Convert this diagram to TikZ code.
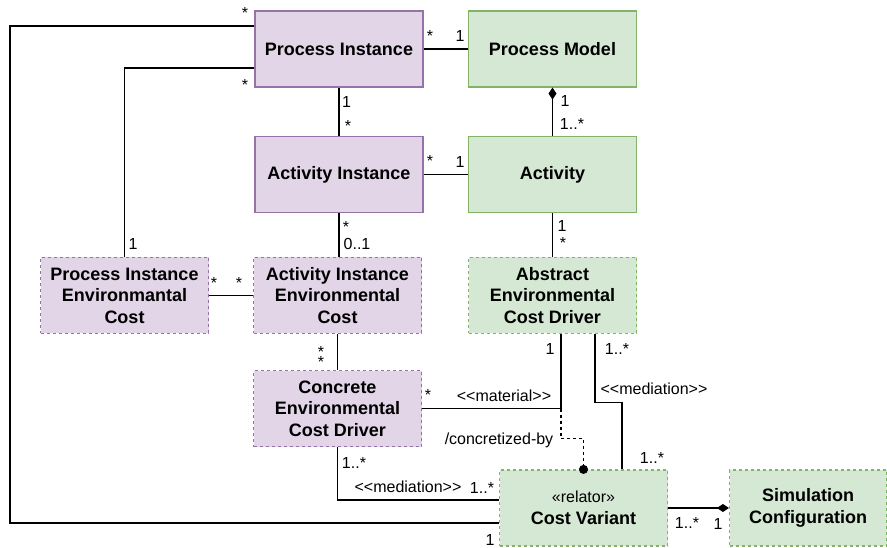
\documentclass[tikz,border=0pt]{standalone}
\usepackage{fontspec}
\setmainfont{Liberation Sans}
\usetikzlibrary{arrows.meta}
\definecolor{purplefill}{HTML}{E1D5E7}
\definecolor{purpleline}{HTML}{9673A6}
\definecolor{greenfill}{HTML}{D5E8D4}
\definecolor{greenline}{HTML}{82B366}
\newcommand\stereo[1]{<\kern0pt<#1>\kern0pt>}
\begin{document}
\begin{tikzpicture}[x=1pt,y=-1pt,
  box/.style={minimum width=168pt,minimum height=76pt,inner sep=2pt,align=center,font=\fontsize{18}{21.5}\selectfont\bfseries,line width=1.2pt},
  inst/.style={box,fill=purplefill,draw=purpleline},
  mdl/.style={box,fill=greenfill,draw=greenline},
  derived/.style={dash pattern=on 3pt off 3pt},
  conn/.style={line width=1.4pt},
  mult/.style={font=\fontsize{16}{19}\selectfont,inner sep=0pt,anchor=base}]
\useasboundingbox (0,0) rectangle (887,548);
\node[inst] (pi) at (339,49) {Process Instance};
\node[mdl] (pm) at (552.5,49) {Process Model};
\node[inst] (ai) at (339,174.5) {Activity Instance};
\node[mdl] (act) at (552.5,174.5) {Activity};
\node[inst,derived] (piec) at (124.5,295.5) {Process Instance\\Environmantal\\Cost};
\node[inst,derived] (aiec) at (337.5,295.5) {Activity Instance\\Environmental\\Cost};
\node[mdl,derived] (aecd) at (552.5,295.5) {Abstract\\Environmental\\Cost Driver};
\node[inst,derived] (cecd) at (337.5,408.5) {Concrete\\Environmental\\Cost Driver};
\node[mdl,derived] (cv) at (583.5,508) {{\mdseries\fontsize{16}{19}\selectfont «relator»}\\Cost Variant};
\node[mdl,derived,minimum width=157pt] (sc) at (808,508) {Simulation\\Configuration};
\draw[conn] ([yshift=23pt]pi.west) -| (10,523) -- ([yshift=-15pt]cv.west);
\draw[conn] ([yshift=-19pt]pi.west) -| (piec.north);
\draw[conn] (pi) -- (pm);
\draw[conn] (pi) -- (ai);
\draw[conn,-{Diamond[length=12pt,width=8pt]}] (act) -- (pm);
\draw[conn] (ai) -- (act);
\draw[conn] (act) -- (aecd);
\draw[conn] (ai.south) -- (ai.south |- aiec.north);
\draw[conn] (piec) -- (aiec);
\draw[conn] (aiec) -- (cecd);
\coordinate (mat) at ([xshift=8.5pt]aecd.south |- cecd.east);
\draw[conn] (cecd.east) -- (mat) -- ([xshift=8.5pt]aecd.south);
\draw[conn,dashed,-{Circle[length=9pt]},shorten >=-4.5pt] (mat) |- ([yshift=31pt]cv.north) -- (cv.north);
\draw[conn] ([xshift=42.5pt]aecd.south) |- ([xshift=38.5pt,yshift=67pt]cv.north) -- ([xshift=38.5pt]cv.north);
\draw[conn] (cecd.south) |- ([yshift=8pt]cv.west);
\draw[conn,-{Diamond[length=12pt,width=8pt]}] (cv) -- (sc);
\node[mult] (m1) at (245,19) {*};
\node[mult] (m2) at (245,91) {*};
\node[mult] (m3) at (346.5,108) {1};
\node[mult] (m4) at (348,132) {*};
\node[mult] (m5) at (430,42) {*};
\node[mult] (m6) at (460,42) {1};
\node[mult] (m7) at (430,167) {*};
\node[mult] (m8) at (460,168) {1};
\node[mult] (m9) at (565,107) {1};
\node[mult] (m10) at (572,130) {1..*};
\node[mult] (m11) at (562,232) {1};
\node[mult] (m12) at (563,249) {*};
\node[mult] (m13) at (133,250) {1};
\node[mult] (m14) at (346,233) {*};
\node[mult] (m15) at (357,250) {0..1};
\node[mult] (m16) at (214,289) {*};
\node[mult] (m17) at (239,289) {*};
\node[mult] (m18) at (321,357) {*};
\node[mult] (m19) at (321,367) {*};
\node[mult] (m20) at (428,400) {*};
\node[mult] (lmat) at (504,401) {\stereo{material}};
\node[mult] (m21) at (550,354) {1};
\node[mult] (m22) at (617,354) {1..*};
\node[mult] (lmed1) at (654,394) {\stereo{mediation}};
\node[mult] (lconc) at (499,444) {/concretized-by};
\node[mult] (m23) at (652,463) {1..*};
\node[mult] (m24) at (354,468) {1..*};
\node[mult] (lmed2) at (408,492) {\stereo{mediation}};
\node[mult] (m25) at (482,493) {1..*};
\node[mult] (m26) at (490,545) {1};
\node[mult] (m27) at (687,528) {1..*};
\node[mult] (m28) at (718,529) {1};
\end{tikzpicture}
\end{document}
